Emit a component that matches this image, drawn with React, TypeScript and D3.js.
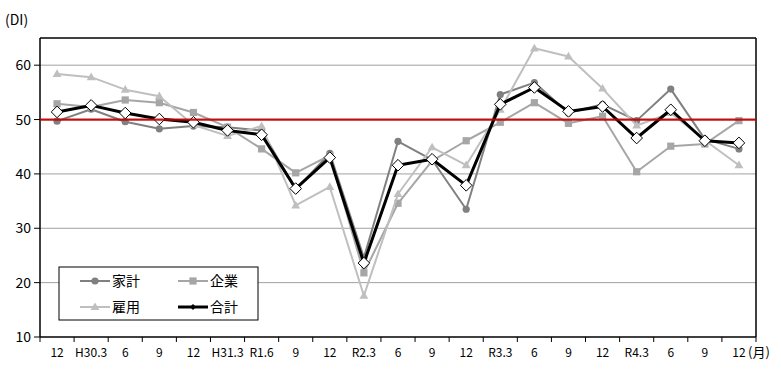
import React from "react";
import * as d3 from "d3";

const categories = ["12", "H30.3", "6", "9", "12", "H31.3", "R1.6", "9", "12", "R2.3", "6", "9", "12", "R3.3", "6", "9", "12", "R4.3", "6", "9", "12"];
const household = [49.7, 51.9, 49.6, 48.3, 48.8, 48.6, 48.0, 37.1, 43.8, 24.6, 46.0, 42.6, 33.5, 54.6, 56.8, 51.2, 52.8, 49.8, 55.6, 46.4, 44.6];
const business = [52.9, 52.3, 53.6, 53.1, 51.3, 48.6, 44.6, 40.2, 43.4, 21.8, 34.6, 42.4, 46.1, 49.5, 53.1, 49.3, 50.6, 40.4, 45.1, 45.5, 49.8];
const employment = [58.4, 57.8, 55.5, 54.3, 49.0, 47.0, 48.8, 34.2, 37.6, 17.6, 36.3, 44.9, 41.6, 51.8, 63.1, 61.6, 55.7, 48.9, 51.2, 46.2, 41.6];
const total = [51.4, 52.6, 51.2, 50.1, 49.5, 48.0, 47.2, 37.3, 43.0, 23.6, 41.6, 42.7, 37.9, 52.8, 55.9, 51.5, 52.4, 46.6, 51.8, 46.1, 45.7];
const yTicks = [10, 20, 30, 40, 50, 60];
const seriesNames = ["家計", "企業", "雇用", "合計"];

const W = 781, H = 373;
const L = 40, R = 756, T = 38, B = 337;
const FONT = "'Noto Sans CJK JP', 'Noto Sans', sans-serif";

function Marker({ kind, x, y, color }: { kind: string; x: number; y: number; color: string }) {
  if (kind === "circle") return <circle cx={x} cy={y} r={3.6} fill={color} />;
  if (kind === "square") return <rect x={x - 3.6} y={y - 3.6} width={7.2} height={7.2} fill={color} />;
  if (kind === "triangle") {
    const p = d3.symbol().type(d3.symbolTriangle).size(34)();
    return <path d={p || ""} transform={`translate(${x},${y + 0.5})`} fill={color} />;
  }
  const s = 5.8;
  return <path d={`M${x},${y - s}L${x + s},${y}L${x},${y + s}L${x - s},${y}Z`} fill="#fff" stroke="#000" strokeWidth={1} />;
}

export default function App() {
  const idx = categories.map((_, i) => i);
  const x = d3.scaleBand<number>().domain(idx).range([L, R]).padding(0);
  const y = d3.scaleLinear().domain([10, 65]).range([B, T]);
  const cx = (i: number) => (x(i) as number) + x.bandwidth() / 2;
  const line = d3.line<number>().x((_, i) => cx(i)).y((d) => y(d));

  const series = [
    { name: seriesNames[0], data: household, color: "#808080", width: 2, kind: "circle" },
    { name: seriesNames[1], data: business, color: "#a6a6a6", width: 2, kind: "square" },
    { name: seriesNames[2], data: employment, color: "#bfbfbf", width: 2, kind: "triangle" },
    { name: seriesNames[3], data: total, color: "#000000", width: 3, kind: "diamond" },
  ];

  const boundaries = idx.map((i) => x(i) as number).concat([R]);

  const legendItems = [
    { s: series[0], lx: 80, ly: 281 },
    { s: series[1], lx: 178, ly: 281 },
    { s: series[2], lx: 80, ly: 307 },
    { s: series[3], lx: 178, ly: 307 },
  ];

  return (
    <svg width={W} height={H} style={{ position: "absolute", left: 0, top: 0, background: "#fff" }} fontFamily={FONT}>
      <rect x={0} y={0} width={W} height={H} fill="#fff" />
      <text x={5} y={25} fontSize={14} fill="#000">(DI)</text>
      {yTicks.filter((t) => t !== 10).map((t) => (
        <line key={t} x1={L} x2={R} y1={y(t)} y2={y(t)} stroke="#a0a0a0" strokeWidth={1} />
      ))}
      {yTicks.map((t) => (
        <g key={"yt" + t}>
          <line x1={L - 6} x2={L} y1={y(t)} y2={y(t)} stroke="#000" />
          <text x={31} y={y(t) + 5} fontSize={14} textAnchor="end" fill="#000">{t}</text>
        </g>
      ))}
      <line x1={L} x2={R} y1={T} y2={T} stroke="#000" strokeWidth={1.5} />
      <line x1={R} x2={R} y1={T} y2={B} stroke="#000" strokeWidth={1.5} />
      <line x1={L} x2={L} y1={T} y2={B} stroke="#000" strokeWidth={1.5} />
      <line x1={L} x2={R} y1={B} y2={B} stroke="#000" strokeWidth={1.5} />
      {boundaries.map((bx, i) => (
        <line key={"xt" + i} x1={bx} x2={bx} y1={B} y2={B + 5} stroke="#000" />
      ))}
      {categories.map((c, i) => (
        <text key={"xl" + i} x={cx(i)} y={357} fontSize={12} textAnchor="middle" fill="#000">{c}</text>
      ))}
      <text x={748} y={357} fontSize={13} fill="#000">(月)</text>
      {series.map((s) => (
        <g key={s.name}>
          <path d={line(s.data) || ""} fill="none" stroke={s.color} strokeWidth={s.width} strokeLinejoin="round" />
          {s.data.map((v, i) => (
            <Marker key={i} kind={s.kind} x={cx(i)} y={y(v)} color={s.color} />
          ))}
        </g>
      ))}
      <line x1={L} x2={R} y1={y(50)} y2={y(50)} stroke="#c00000" strokeWidth={2.2} opacity={0.9} />
      <rect x={59} y={267} width={199} height={53} fill="#fff" stroke="#000" strokeWidth={1} />
      {legendItems.map(({ s, lx, ly }) => (
        <g key={"lg" + s.name}>
          <line x1={lx} x2={lx + 30} y1={ly} y2={ly} stroke={s.color} strokeWidth={s.width} />
          {s.kind === "diamond" ? (
            <path d={`M${lx + 15},${ly - 3}L${lx + 18},${ly}L${lx + 15},${ly + 3}L${lx + 12},${ly}Z`} fill="#000" />
          ) : (
            <Marker kind={s.kind} x={lx + 15} y={ly} color={s.color} />
          )}
          <text x={lx + 32} y={ly + 5} fontSize={14} fill="#000">{s.name}</text>
        </g>
      ))}
    </svg>
  );
}
